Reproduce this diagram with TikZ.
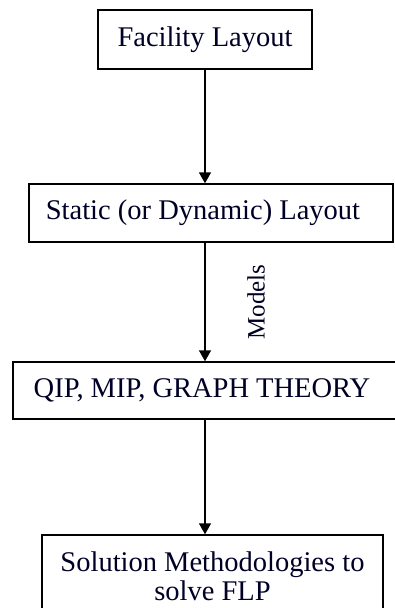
\documentclass[tikz,border=0pt]{standalone}
\usepackage{fontspec}
\setmainfont{Liberation Serif}
\usetikzlibrary{arrows.meta}
\begin{document}
\begin{tikzpicture}[x=1pt,y=-1pt,
  box/.style={draw=black, line width=1.4pt, inner sep=0pt, align=center,
    font=\fontsize{28.5}{29}\selectfont, text=black!85!blue},
  arr/.style={line width=1.4pt, -{Triangle[length=11pt,width=12pt]}}]
\useasboundingbox (0,0) rectangle (395,608);
\clip (0,0) rectangle (395,608);
\fill[white] (0,0) rectangle (395,608);
\node[box, minimum width=214pt, minimum height=59pt] (b1) at (205,39.5) {\raisebox{3pt}{Facility Layout}};
\node[box, minimum width=364pt, minimum height=58pt] (b2) at (211,213) {\hspace*{-16pt}Static (or Dynamic) Layout};
\node[box, minimum width=387pt, minimum height=57pt] (b3) at (206.5,390.5) {\hspace*{-9pt}\raisebox{2pt}{QIP, MIP, GRAPH THEORY}};
\node[box, minimum width=341pt, minimum height=82pt] (b4) at (212.5,576) {Solution Methodologies to\\solve FLP};
\draw[arr] (b1.south) -- (b1.south |- b2.north);
\draw[arr] (b1.south |- b2.south) -- (b1.south |- b3.north)
  node[midway, xshift=51pt, rotate=90, font=\fontsize{25}{26}\selectfont, text=black!85!blue] (m) {Models};
\draw[arr] (b1.south |- b3.south) -- (b1.south |- b4.north);
\end{tikzpicture}
\end{document}
